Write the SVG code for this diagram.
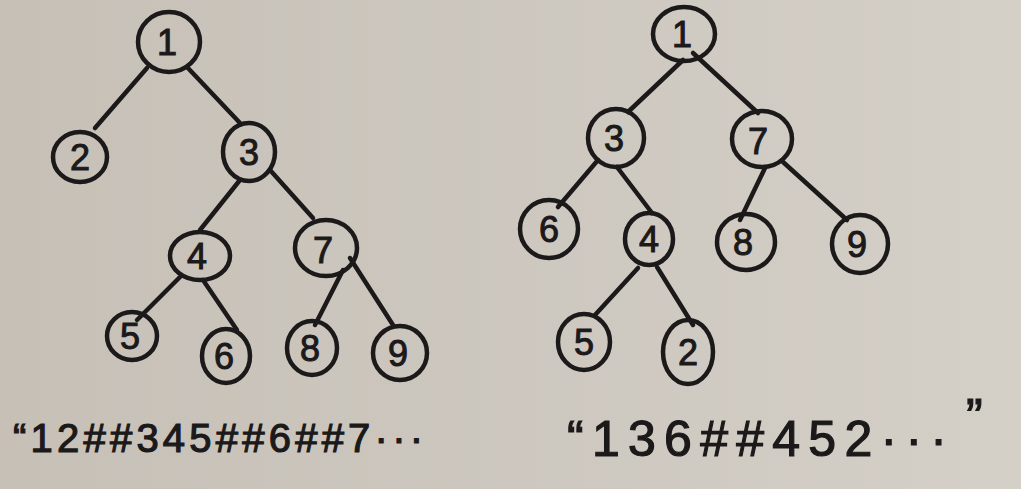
<svg xmlns="http://www.w3.org/2000/svg" width="1021" height="489" viewBox="0 0 1021 489">
  <defs>
    <linearGradient id="paper" x1="0" y1="0" x2="1" y2="0">
      <stop offset="0" stop-color="#c6c0b7"/>
      <stop offset="1" stop-color="#d4cfc7"/>
    </linearGradient>
    <style>
      .n ellipse { fill: none; stroke: #1b1919; stroke-width: 4.5; }
      .n text { font-family: "Liberation Sans", "DejaVu Sans", sans-serif; font-size: 36px; fill: #1b1919; stroke: #1b1919; stroke-width: 1; text-anchor: middle; dominant-baseline: central; }
      #edges line { stroke: #1b1919; stroke-width: 4.5; stroke-linecap: round; }
      .cap { font-family: "Liberation Sans", "DejaVu Sans", sans-serif; font-size: 40px; fill: #1b1919; stroke: #1b1919; stroke-width: 1.2; }
      .cap.big { font-size: 50px; }
    </style>
  </defs>
  <rect x="0" y="0" width="1021" height="489" fill="url(#paper)"/>

  <g id="edges">
    <!-- left tree -->
    <line x1="147" y1="68" x2="95" y2="128"/>
    <line x1="187" y1="67" x2="240" y2="123"/>
    <line x1="240" y1="180" x2="200" y2="230"/>
    <line x1="270" y1="170" x2="313" y2="218"/>
    <line x1="180" y1="277" x2="137" y2="320"/>
    <line x1="203" y1="280" x2="237" y2="330"/>
    <line x1="343" y1="270" x2="315" y2="325"/>
    <line x1="350" y1="258" x2="393" y2="325"/>
    <!-- right tree -->
    <line x1="683" y1="60" x2="628" y2="112"/>
    <line x1="693" y1="53" x2="758" y2="113"/>
    <line x1="598" y1="160" x2="558" y2="207"/>
    <line x1="617" y1="167" x2="652" y2="213"/>
    <line x1="765" y1="168" x2="740" y2="220"/>
    <line x1="783" y1="162" x2="847" y2="220"/>
    <line x1="638" y1="268" x2="595" y2="315"/>
    <line x1="657" y1="267" x2="693" y2="325"/>
  </g>

  <!-- left tree nodes -->
  <g id="L1" class="n"><ellipse cx="169" cy="42" rx="31" ry="30"/><text x="167" y="42">1</text></g>
  <g id="L2" class="n"><ellipse cx="80" cy="157" rx="27" ry="25"/><text x="80" y="157">2</text></g>
  <g id="L3" class="n"><ellipse cx="249" cy="152" rx="26" ry="29"/><text x="249" y="152">3</text></g>
  <g id="L4" class="n"><ellipse cx="200" cy="256" rx="30" ry="24"/><text x="197" y="256">4</text></g>
  <g id="L7" class="n"><ellipse cx="326" cy="248" rx="31" ry="28"/><text x="323" y="250">7</text></g>
  <g id="L5" class="n"><ellipse cx="132" cy="336" rx="25" ry="24"/><text x="130" y="336">5</text></g>
  <g id="L6" class="n"><ellipse cx="226" cy="356" rx="24" ry="27"/><text x="224" y="356">6</text></g>
  <g id="L8" class="n"><ellipse cx="312" cy="348" rx="25" ry="27"/><text x="310" y="348">8</text></g>
  <g id="L9" class="n"><ellipse cx="400" cy="353" rx="27" ry="27"/><text x="398" y="353">9</text></g>

  <!-- right tree nodes -->
  <g id="R1" class="n"><ellipse cx="684" cy="34" rx="31" ry="27"/><text x="682" y="34">1</text></g>
  <g id="R3" class="n"><ellipse cx="616" cy="138" rx="28" ry="29"/><text x="614" y="138">3</text></g>
  <g id="R7" class="n"><ellipse cx="762" cy="139" rx="30" ry="28"/><text x="758" y="141">7</text></g>
  <g id="R6" class="n"><ellipse cx="549" cy="229" rx="29" ry="29"/><text x="549" y="229">6</text></g>
  <g id="R4" class="n"><ellipse cx="649" cy="239" rx="24" ry="26"/><text x="649" y="239">4</text></g>
  <g id="R8" class="n"><ellipse cx="746" cy="242" rx="29" ry="28"/><text x="743" y="242">8</text></g>
  <g id="R9" class="n"><ellipse cx="860" cy="244" rx="28" ry="29"/><text x="857" y="244">9</text></g>
  <g id="R5" class="n"><ellipse cx="584" cy="342" rx="26" ry="28"/><text x="584" y="342">5</text></g>
  <g id="R2" class="n"><ellipse cx="688" cy="352" rx="25" ry="32"/><text x="688" y="352">2</text></g>

  <!-- sequence strings -->
  <text class="cap" x="13" y="452" textLength="410" lengthAdjust="spacing">“12##345##6##7···</text>
  <text class="cap big" x="567" y="456" textLength="380" lengthAdjust="spacing">“136##452···</text>
  <text class="cap big" x="966" y="434">”</text>
</svg>
